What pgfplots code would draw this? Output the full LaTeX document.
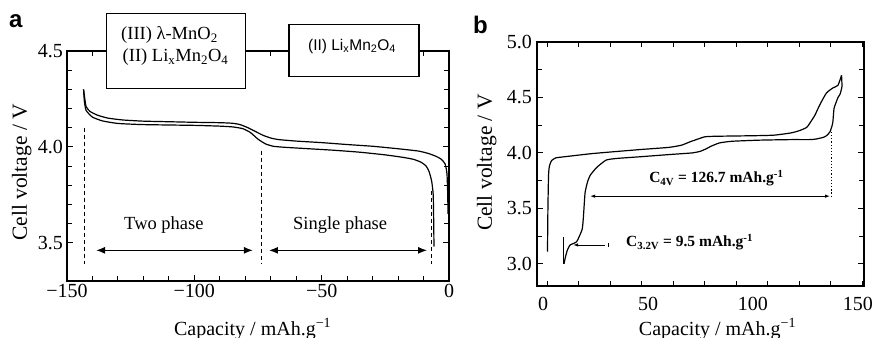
\documentclass[border=0pt]{standalone}
\usepackage{fontspec}
\setmainfont{Liberation Serif}
\newfontfamily\arial{Liberation Sans}
\usepackage{pgfplots}
\pgfplotsset{compat=1.18}
\usetikzlibrary{arrows.meta}

\begin{document}
\begin{tikzpicture}
\useasboundingbox (0,0) rectangle (874bp,-338bp);
\pgfplotsset{
  common/.style={
    scale only axis, clip=false,
    /pgf/number format/assume math mode=true,
    axis line style={line width=1.3bp},
    tick style={line width=1bp, black},
    tick align=inside,
    major tick length=6bp, minor tick length=5bp,
    tick label style={font=\fontsize{20bp}{23bp}\selectfont},
    yticklabel style={anchor=east, inner sep=0pt, xshift=-4bp},
    curve/.style={black, line width=1.2bp, smooth, tension=0.3},
  }
}
% ---------------- panel a ----------------
\begin{axis}[common, at={(67bp,-281bp)}, anchor=south west, width=382bp, height=230bp,
  xmin=-150, xmax=0, ymin=3.3, ymax=4.5,
  xtick={-150,-100,-50,0}, xticklabels={−150,−100,−50,0},
  minor x tick num=4,
  ytick={3.5,4,4.5}, yticklabels={3.5,4.0,4.5}, minor y tick num=4,
  xticklabel style={anchor=base, inner sep=0pt, yshift=-16bp},
  xlabel={Capacity / mAh.g\textsuperscript{−1}},
  ylabel={Cell voltage / V},
  every axis x label/.style={at={(axis description cs:0.486,0)}, anchor=base, yshift=-54bp, inner sep=0pt, font=\fontsize{20bp}{23bp}\selectfont},
  every axis y label/.style={at={(axis description cs:-0.105,0.472)}, rotate=90, anchor=base, inner sep=0pt, font=\fontsize{21.5bp}{24bp}\selectfont},
]
\addplot[curve] coordinates {
(-143.5,4.30) (-143,4.25) (-142.5,4.21) (-141,4.185) (-138,4.165) (-134,4.15) (-128,4.14)
(-120,4.134) (-110,4.131) (-100,4.128) (-90,4.126) (-85,4.123) (-82,4.116) (-79,4.10)
(-76,4.08) (-73,4.06) (-70,4.046) (-67,4.038) (-60,4.03) (-50,4.022) (-40,4.012)
(-30,4.003) (-20,3.99) (-12,3.978) (-8,3.965) (-5,3.95) (-3,3.935) (-1.5,3.91)
(-0.8,3.86) (-0.5,3.75) (-0.4,3.65)};
\addplot[curve] coordinates {
(-143.5,4.30) (-143.2,4.24) (-142.5,4.19) (-140,4.155) (-136,4.135) (-130,4.122)
(-120,4.116) (-100,4.112) (-90,4.108) (-85,4.104) (-81,4.095) (-78,4.075) (-75,4.04)
(-72,4.015) (-69,4.003) (-65,3.998) (-55,3.99) (-45,3.982) (-35,3.972) (-25,3.958)
(-18,3.945) (-14,3.935) (-11,3.92) (-9,3.9) (-7.8,3.87) (-6.8,3.82) (-6.2,3.75)
(-6,3.6) (-5.9,3.48)};
% dashed separators
\addplot[black, line width=1bp, dash pattern=on 4bp off 3bp] coordinates {(-143,4.1) (-143,3.39)};
\addplot[black, line width=1bp, dash pattern=on 4bp off 3bp] coordinates {(-73.8,3.98) (-73.8,3.39)};
\addplot[black, line width=1bp, dash pattern=on 4bp off 3bp] coordinates {(-6.7,3.77) (-6.7,3.39)};
% arrows
\addplot[black, line width=1.3bp, {Latex[length=9bp,width=7bp]}-{Latex[length=9bp,width=7bp]}] coordinates {(-138.6,3.46) (-77,3.46)};
\addplot[black, line width=1.3bp, {Latex[length=9bp,width=7bp]}-{Latex[length=9bp,width=7bp]}] coordinates {(-70.7,3.46) (-8.6,3.46)};
\node[anchor=base west, inner sep=0pt, font=\fontsize{18.5bp}{22bp}\selectfont] at (axis cs:-127.6,3.568) {Two phase};
\node[anchor=base west, inner sep=0pt, font=\fontsize{18.5bp}{22bp}\selectfont] at (axis cs:-61.3,3.568) {Single phase};
% boxes
\addplot[draw=black, fill=white, line width=1.4bp] coordinates {(-134.6,4.305) (-80,4.305) (-80,4.695) (-134.6,4.695)} -- cycle;
\addplot[draw=black, fill=white, line width=1.4bp] coordinates {(-62.8,4.368) (-11.8,4.368) (-11.8,4.637) (-62.8,4.637)} -- cycle;
\node[anchor=base west, inner sep=0pt, font=\fontsize{18.5bp}{22bp}\selectfont] at (axis cs:-128.8,4.558) {(III) λ-MnO\textsubscript{2}};
\node[anchor=base west, inner sep=0pt, font=\fontsize{18.5bp}{22bp}\selectfont] at (axis cs:-128.2,4.444) {(II) Li\textsubscript{x}Mn\textsubscript{2}O\textsubscript{4}};
\node[anchor=base west, inner sep=0pt, font=\arial\fontsize{15.5bp}{18bp}\selectfont] at (axis cs:-55.4,4.505) {(II) Li\textsubscript{x}Mn\textsubscript{2}O\textsubscript{4}};
\end{axis}
% ---------------- panel b ----------------
\begin{axis}[common, at={(537bp,-286bp)}, anchor=south west, width=327bp, height=244bp,
  xmin=-2.9, xmax=152.9, ymin=2.8, ymax=5.0,
  xtick={0,50,100,150}, minor xtick={2,17,...,152}, major x tick style={draw=none},
  xticklabel style={anchor=base, inner sep=0pt, yshift=-24bp},
  ytick={3,3.5,4,4.5,5}, yticklabels={3.0,3.5,4.0,4.5,5.0}, minor y tick num=1,
  yticklabel style={xshift=-1bp},
  xlabel={Capacity / mAh.g\textsuperscript{−1}},
  ylabel={Cell voltage / V},
  every axis x label/.style={at={(axis description cs:0.552,0)}, anchor=base, yshift=-49bp, inner sep=0pt, font=\fontsize{20bp}{23bp}\selectfont},
  every axis y label/.style={at={(axis description cs:-0.138,0.506)}, rotate=90, anchor=base, inner sep=0pt, font=\fontsize{21.5bp}{24bp}\selectfont},
]
\addplot[curve] coordinates {
(2.1,3.11) (2.3,3.5) (2.6,3.8) (3,3.88) (4,3.93) (6,3.955) (10,3.965) (24,3.995)
(46,4.03) (60,4.05) (66,4.07) (70,4.1) (73,4.12) (77,4.145) (82,4.15) (100,4.155)
(110,4.16) (118,4.18) (122,4.2) (125.6,4.23) (127.5,4.28) (129.5,4.34) (132,4.44)
(135,4.54) (138,4.585) (140.5,4.61) (142.2,4.70)};
\addplot[curve] coordinates {
(142.2,4.70) (142.4,4.6) (141.5,4.53) (140.5,4.50) (139.5,4.45) (138.6,4.40) (138,4.27)
(136.7,4.19) (135,4.155) (133.5,4.14) (130,4.125) (127,4.12) (118,4.12) (103,4.115)
(90,4.105) (84,4.09) (80,4.06) (78,4.04) (75,4.015) (71,4.0) (60,3.985) (46,3.965)
(35,3.95) (30,3.935) (25.6,3.87) (22.5,3.8) (21.2,3.74) (20,3.64) (19.2,3.42)
(18.6,3.31) (16,3.2) (12.9,3.17) (11.5,3.12) (10.5,3.05) (10,3.0)};
\addplot[black, line width=1.2bp] coordinates {(9.8,3.0) (9.8,3.24)};
% C4V
\addplot[black, line width=1.2bp, dotted] coordinates {(137.5,4.19) (137.5,3.59)};
\addplot[black, line width=0.9bp, {Latex[length=5bp,width=3.5bp]}-{Latex[length=5bp,width=3.5bp]}] coordinates {(22.4,3.61) (136.7,3.61)};
\node[anchor=base west, inner sep=0pt, font=\bfseries\fontsize{15.5bp}{18bp}\selectfont] at (axis cs:50.5,3.73) {C\textsubscript{4V} = 126.7 mAh.g\textsuperscript{-1}};
% C3.2V
\addplot[black, line width=0.9bp, {Latex[length=5bp,width=3.5bp]}-] coordinates {(14.3,3.17) (29.5,3.17)};
\addplot[black, line width=0.9bp] coordinates {(31,3.15) (31,3.19)};
\node[anchor=base west, inner sep=0pt, font=\bfseries\fontsize{15.5bp}{18bp}\selectfont] at (axis cs:39.5,3.153) {C\textsubscript{3.2V} = 9.5 mAh.g\textsuperscript{-1}};
\end{axis}
\node[anchor=base west, inner sep=0pt, font=\arial\bfseries\fontsize{24bp}{28bp}\selectfont] at (9bp,-27.5bp) {a};
\node[anchor=base west, inner sep=0pt, font=\arial\bfseries\fontsize{24bp}{28bp}\selectfont] at (473bp,-33bp) {b};
\end{tikzpicture}
\end{document}
